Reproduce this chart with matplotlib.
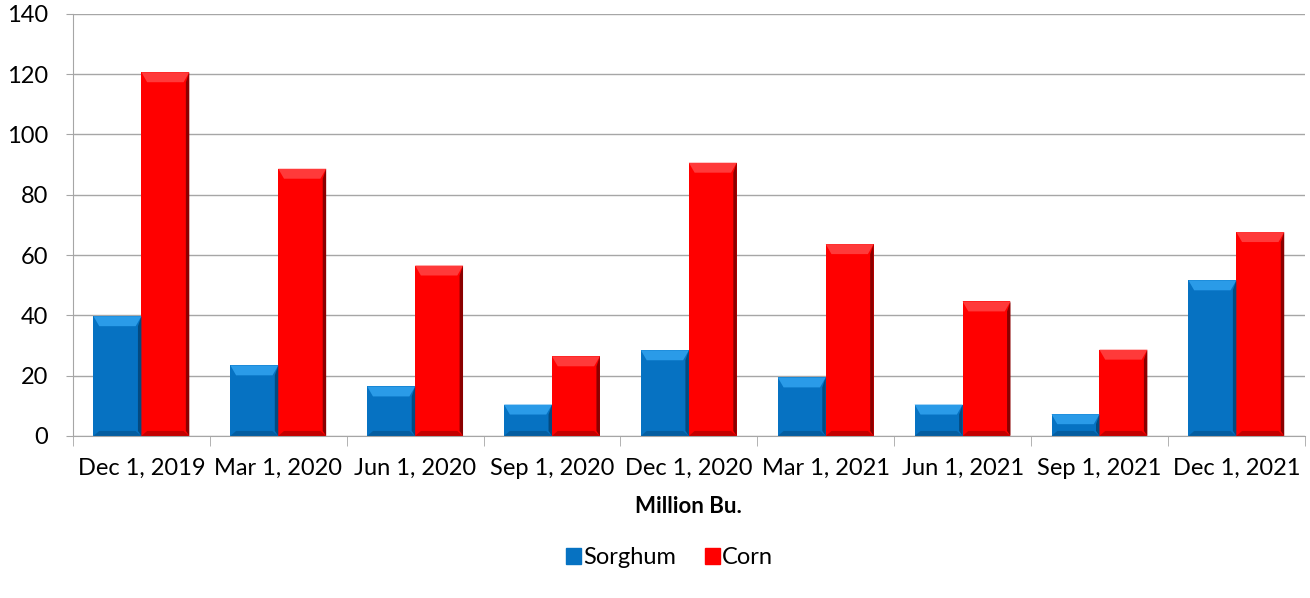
import numpy as np
import matplotlib.pyplot as plt
from matplotlib.patches import Polygon, Rectangle

dates = ['Dec 1, 2019', 'Mar 1, 2020', 'Jun 1, 2020', 'Sep 1, 2020', 'Dec 1, 2020',
         'Mar 1, 2021', 'Jun 1, 2021', 'Sep 1, 2021', 'Dec 1, 2021']
sorghum = [39.7, 23.4, 16.4, 10.4, 28.4, 19.4, 10.4, 7.2, 51.6]
corn = [120.6, 88.6, 56.5, 26.4, 90.6, 63.6, 44.6, 28.6, 67.6]

plt.rcParams['font.family'] = ['Lato', 'DejaVu Sans']
fs = 17

fig = plt.figure(figsize=(13.1, 5.98), dpi=100)
ax = fig.add_axes([0.0557, 0.271, 0.9403, 0.706])

x = np.arange(len(dates))
w = 0.35


def bevel_bars(xs, vals, color, light, dark):
    bars = ax.bar(xs, vals, w, color=color, edgecolor='none', zorder=2)
    for b in bars:
        x0, h, bw = b.get_x(), b.get_height(), b.get_width()
        bv = min(3.3, h / 2)
        dx = bw * 0.12
        # lighter top bevel
        ax.add_patch(Polygon([[x0, h], [x0 + bw, h], [x0 + bw - dx, h - bv], [x0 + dx, h - bv]],
                             closed=True, color=light, lw=0, zorder=3))
        # darker right edge
        ax.add_patch(Polygon([[x0 + bw, h], [x0 + bw, 0], [x0 + bw - dx * 0.6, bv * 0.5],
                              [x0 + bw - dx * 0.6, h - bv]],
                             closed=True, color=dark, lw=0, zorder=3))
        # darker bottom bevel
        ax.add_patch(Polygon([[x0, 0], [x0 + bw, 0], [x0 + bw - dx, bv * 0.5], [x0 + dx, bv * 0.5]],
                             closed=True, color=dark, alpha=0.5, lw=0, zorder=3))
    return bars


bevel_bars(x - w / 2, sorghum, '#0672C2', '#2A9BE8', '#034A80')
bevel_bars(x + w / 2, corn, '#FF0000', '#FF3A3A', '#8A0000')

ax.set_xlim(-0.5, len(dates) - 0.5)
ax.set_ylim(0, 140)
ax.set_yticks(np.arange(0, 141, 20))
ax.yaxis.grid(True, color='#A6A6A6', lw=1)
ax.set_axisbelow(True)

ax.set_xticks(x)
ax.set_xticklabels(dates)
ax.set_xticks(np.arange(-0.5, len(dates), 1), minor=True)
ax.tick_params(axis='x', which='major', length=0, pad=16, labelsize=fs)
ax.tick_params(axis='x', which='minor', length=7, color='#A6A6A6')
ax.tick_params(axis='y', length=5, color='#A6A6A6', labelsize=fs, pad=13)

for s in ['top', 'right']:
    ax.spines[s].set_visible(False)
for s in ['left', 'bottom']:
    ax.spines[s].set_color('#A6A6A6')

ax.set_xlabel('Million Bu.', fontsize=fs - 1, fontweight='bold', labelpad=12)

handles = [Rectangle((0, 0), 1, 1, color='#0672C2'), Rectangle((0, 0), 1, 1, color='#FF0000')]
fig.legend(handles, ['Sorghum', 'Corn'], loc='center', bbox_to_anchor=(0.511, 0.067), ncol=2,
           frameon=False, fontsize=fs, handlelength=0.65, handleheight=0.65,
           handletextpad=0.1, columnspacing=1.2)

fig.savefig('out.png', dpi=100)
